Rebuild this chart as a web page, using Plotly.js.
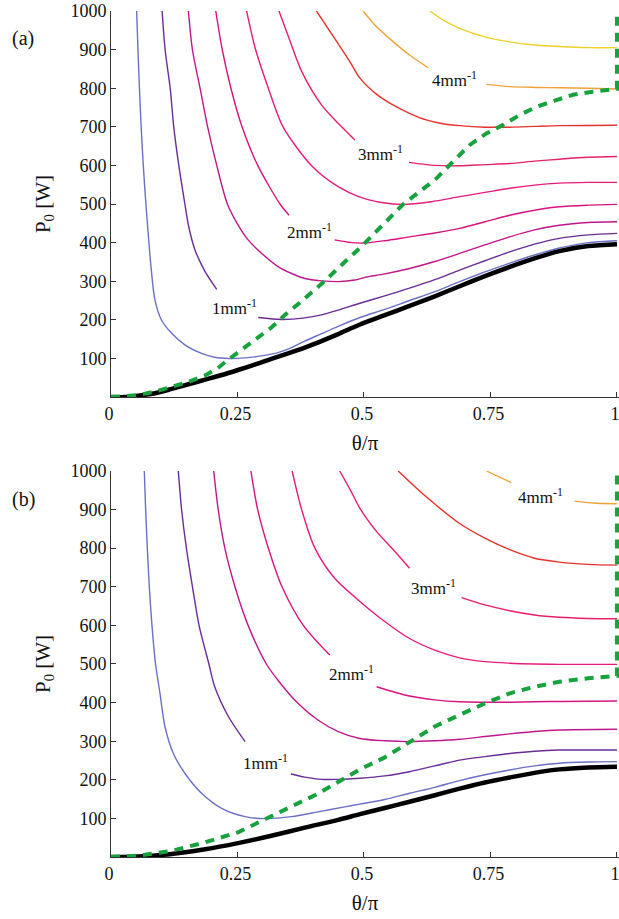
<!DOCTYPE html>
<html><head><meta charset="utf-8">
<script src="https://cdn.plot.ly/plotly-3.0.1.min.js"></script>
<style>html,body{margin:0;padding:0;background:#fff}</style>
</head><body><div id="chart" style="width:619px;height:919px"></div>
<script>
// ---------- Panel (a) ----------
const a05_t = [0.0507,0.0533,0.0562,0.0596,0.0638,0.069,0.0735,0.079,0.0869,0.100,0.120,0.146,0.179,0.205,0.232,0.265,0.304,0.330,0.357,0.383,0.416,0.449,0.492,0.541,0.590,0.640,0.689,0.739,0.788,0.837,0.886,0.943,1.0];
const a05_p = [1000,899,800,700,600,500,424,338,251,199,165,135,113,103,100,101.5,108,115,128,145,164,183,206,227,250,273,299,324,347,368,386,400,405];
const a10_t = [0.101,0.107,0.117,0.124,0.134,0.146,0.153,0.166,0.186,0.209,null,0.291,0.337,0.383,0.416,0.449,0.492,0.541,0.590,0.640,0.689,0.739,0.788,0.837,0.886,0.943,1.0];
const a10_p = [1000,899,800,700,600,500,445,381,325,279,null,206,201,205,213,225,243,262,282,304,329,353,376,396,411,420,424];
const a15_t = [0.153,0.161,0.176,0.191,0.209,0.230,0.251,0.271,0.298,0.330,0.357,0.383,0.416,0.449,0.482,0.502,0.541,0.590,0.640,0.689,0.739,0.788,0.837,0.886,0.943,1.0];
const a15_p = [1000,899,800,700,600,500,446,407,372,338,320,307,301,299,303,310,319,333,351,372,394,415,433,445,452,454];
const a20_t = [0.207,0.220,0.237,0.259,0.290,0.334,0.352,null,0.442,0.475,0.502,0.541,0.590,0.640,0.689,0.739,0.788,0.837,0.886,0.943,1.0];
const a20_p = [1000,899,800,700,600,500,471,null,407,400,399,405,415,425,437,454,471,484,493,497,499];
const a25_t = [0.268,0.286,0.311,0.340,0.396,0.449,0.492,0.535,0.577,0.633,0.689,0.739,0.788,0.837,0.886,0.943,1.0];
const a25_p = [1000,899,800,700,600,545,518,504,499,506,519,530,541,549,554,556,556];
const a30_t = [0.332,0.352,0.377,0.416,0.449,0.482,null,0.589,0.640,0.689,0.739,0.788,0.837,0.886,0.943,1.0];
const a30_p = [1000,929,843,757,709,666,null,608,600,599,602,605,611,616,621,623];
const a35_t = [0.406,0.442,0.472,0.492,0.525,0.558,0.590,0.623,0.656,0.689,0.739,0.788,0.837,0.886,1.0];
const a35_p = [1000,929,869,826,784,756,735,718,708,703,699,699,701,703,704];
const a40_t = [0.498,0.525,0.558,0.590,0.627,null,0.742,0.788,0.841,0.886,0.945,1.0];
const a40_p = [1000,959,920,886,853,null,810,804,802,801,800,798];
const a45_t = [0.630,0.656,0.689,0.739,0.788,0.837,0.886,0.943,1.0];
const a45_p = [1000,977,955,933,920,912,908,905,905];
const aBlack_t = [0.0,0.028,0.054,0.087,0.12,0.153,0.186,0.219,0.251,0.284,0.317,0.350,0.383,0.416,0.449,0.492,0.541,0.590,0.640,0.689,0.739,0.788,0.837,0.886,0.943,1.0];
const aBlack_p = [0,0,3.5,10,21,33,45,57,70,84,99,113,128,145,163,188,212,236,261,287,313,337,359,378,391,396];
const aGreen_t = [0,0.028,0.054,0.087,0.12,0.153,0.186,0.212,0.232,0.258,0.284,0.317,0.344,0.370,0.396,0.423,0.449,0.475,0.495,0.538,0.577,0.610,0.643,0.676,0.709,0.742,0.775,0.808,0.841,0.880,0.913,0.952,1.0,1.0];
const aGreen_p = [0,1.7,5,14,26,39,56,76,97,121,148,180,213,241,269,301,334,366,390,447,499,532,566,610,653,683,705,731,752,769,783,791,798,1000];

// ---------- Panel (b) ----------
const b05_t = [0.0658,0.0685,0.0718,0.0757,0.081,0.088,0.0968,0.1066,0.123,0.146,0.179,0.2186,0.265,0.304,0.357,0.409,0.462,0.492,0.541,0.590,0.640,0.689,0.739,0.788,0.837,0.886,0.943,1.0];
const b05_p = [1000,899,800,700,600,500,424,338,269,217,165,126,104.5,99.5,104.5,117,130,137,149,165,180.5,198,213,225.5,236,243,246,247];
const b10_t = [0.133,0.1396,0.149,0.161,0.174,0.1935,0.205,0.232,0.265,null,0.3555,0.383,0.416,0.449,0.492,0.541,0.590,0.640,0.689,0.739,0.788,0.837,0.886,1.0];
const b10_p = [1000,899,800,700,600,500,441,364,299,null,215,207,201,201,204,210,221,236,251,260,268,274,277,277];
const b15_t = [0.203,0.212,0.225,0.245,0.271,0.307,0.330,0.363,0.409,0.449,0.492,0.541,0.590,0.640,0.689,0.739,0.788,0.837,0.886,1.0];
const b15_p = [1000,899,800,700,600,500,458,407,355,325,307,301,299,301,305,312,319,325,329,331];
const b20_t = [0.2765,0.290,0.311,0.338,0.380,0.4325,null,0.525,0.558,0.590,0.640,0.689,0.739,0.788,0.837,0.886,1.0];
const b20_p = [1000,899,800,700,600,523,null,441,428,417,407,402,401,401,402,403,404];
const b25_t = [0.358,0.377,0.403,0.442,0.492,0.541,0.590,0.640,0.689,0.739,0.788,0.837,0.886,1.0];
const b25_p = [1000,899,800,722,662,610,566,536,516,506,502,500,499,499];
const b30_t = [0.452,0.475,0.492,0.525,0.558,0.590,null,0.693,0.739,0.788,0.837,0.886,0.943,1.0];
const b30_p = [1000,946,903,843,796,748,null,672,653,638,627,621,618,617];
const b35_t = [0.5675,0.623,0.689,0.739,0.788,0.837,0.886,0.943,1.0];
const b35_p = [1000,933,864,826,796,774,764,758,756];
const b40_t = [0.742,0.791,null,0.9165,0.953,1.0];
const b40_p = [1000,970,null,922,917,915];
const bBlack_t = [0,0.054,0.12,0.186,0.251,0.317,0.383,0.449,0.492,0.541,0.590,0.640,0.689,0.739,0.788,0.837,0.886,0.943,1.0];
const bBlack_p = [0,1.5,8,20,36,55,76,96,111,127,143,160,177,193,206,218,227,232,234];
const bGreen_t = [0,0.054,0.12,0.186,0.251,0.298,0.357,0.409,0.462,0.492,0.541,0.590,0.640,0.689,0.739,0.788,0.837,0.886,0.943,1.0,1.0];
const bGreen_p = [0,3.5,16,38,64,94,130,164,204,227,258,299,338,368,398,424,441,454,463,469,1000];

// contour level colours (0.5 ... 4.5 mm^-1)
const levelColors = ['#6b70c4','#6a2c96','#c0168b','#d8137f','#e51c7c','#e8206a','#e8322c','#f0a23a','#efd028'];

// label texts and positions
const labelText = ['1mm<sup>-1</sup>','2mm<sup>-1</sup>','3mm<sup>-1</sup>','4mm<sup>-1</sup>'];
const aLabel_t = [0.245,0.393,0.533,0.679];
const aLabel_p = [233,430,631,824];
const bLabel_t = [0.306,0.475,0.638,0.849];
const bLabel_p = [247,476,700,936];

const aCurves = [[a05_t,a05_p],[a10_t,a10_p],[a15_t,a15_p],[a20_t,a20_p],[a25_t,a25_p],[a30_t,a30_p],[a35_t,a35_p],[a40_t,a40_p],[a45_t,a45_p]];
const bCurves = [[b05_t,b05_p],[b10_t,b10_p],[b15_t,b15_p],[b20_t,b20_p],[b25_t,b25_p],[b30_t,b30_p],[b35_t,b35_p],[b40_t,b40_p]];

const traces = [];
function addPanel(curves, blackT, blackP, greenT, greenP, xa, ya) {
  curves.forEach((c, i) => {
    traces.push({x:c[0], y:c[1], xaxis:xa, yaxis:ya, mode:'lines', type:'scatter',
      line:{color:levelColors[i], width:1.4, shape:'spline', smoothing:0.8}, connectgaps:false, hoverinfo:'skip'});
  });
  traces.push({x:blackT, y:blackP, xaxis:xa, yaxis:ya, mode:'lines', type:'scatter',
    line:{color:'#000', width:4.5, shape:'spline', smoothing:0.8}, hoverinfo:'skip'});
  traces.push({x:greenT, y:greenP, xaxis:xa, yaxis:ya, mode:'lines', type:'scatter',
    line:{color:'#18a23e', width:4, dash:'9px,7px'}, hoverinfo:'skip'});
}
addPanel(aCurves, aBlack_t, aBlack_p, aGreen_t, aGreen_p, 'x', 'y');
addPanel(bCurves, bBlack_t, bBlack_p, bGreen_t, bGreen_p, 'x2', 'y2');

const serif = 'Liberation Serif, Times New Roman, serif';
const xTicks = [0,0.25,0.5,0.75,1];
const xTickText = ['0','0.25','0.5','0.75','1'];
const yTicks = [100,200,300,400,500,600,700,800,900,1000];

function xAxis(anchor) {
  return {anchor:anchor, range:[0,1.004], tickvals:xTicks, ticktext:xTickText,
    ticks:'inside', ticklen:5, tickcolor:'#333', showline:true, linecolor:'#333', linewidth:1,
    ticklabeloverflow:'allow', ticklabelshift:-2,
    showgrid:false, zeroline:false, tickfont:{family:serif, size:18, color:'#111'},
    title:{text:'θ/π', font:{family:serif, size:21, color:'#111'}, standoff:12}};
}
function yAxis(anchor, dom) {
  return {anchor:anchor, domain:dom, range:[0,1000], tickvals:yTicks,
    ticks:'inside', ticklen:5, tickcolor:'#333', showline:true, linecolor:'#333', linewidth:1,
    showgrid:false, zeroline:false, tickfont:{family:serif, size:18, color:'#111'},
    title:{text:'P<sub>0</sub> [W]', font:{family:serif, size:21, color:'#111'}, standoff:14}};
}

const annotations = [];
labelText.forEach((t, i) => {
  annotations.push({x:aLabel_t[i], y:aLabel_p[i], xref:'x', yref:'y', text:t, showarrow:false,
    font:{family:serif, size:17, color:'#111'}, xanchor:'center', yanchor:'middle'});
  annotations.push({x:bLabel_t[i], y:bLabel_p[i], xref:'x2', yref:'y2', text:t, showarrow:false,
    font:{family:serif, size:17, color:'#111'}, xanchor:'center', yanchor:'middle'});
});
annotations.push({x:-0.199, y:0.967, xref:'paper', yref:'paper', text:'(a)', showarrow:false,
  font:{family:serif, size:20, color:'#111'}, xanchor:'left', yanchor:'middle'});
annotations.push({x:-0.199, y:0.423, xref:'paper', yref:'paper', text:'(b)', showarrow:false,
  font:{family:serif, size:20, color:'#111'}, xanchor:'left', yanchor:'middle'});

const layout = {
  width:619, height:919, margin:{l:111, r:0, t:11, b:62},
  paper_bgcolor:'#fff', plot_bgcolor:'#fff', showlegend:false,
  xaxis:xAxis('y'), yaxis:yAxis('x',[0.5437,1]),
  xaxis2:xAxis('y2'), yaxis2:yAxis('x2',[0,0.4563]),
  annotations:annotations
};
Plotly.newPlot('chart', traces, layout, {staticPlot:true});
</script>
</body></html>
